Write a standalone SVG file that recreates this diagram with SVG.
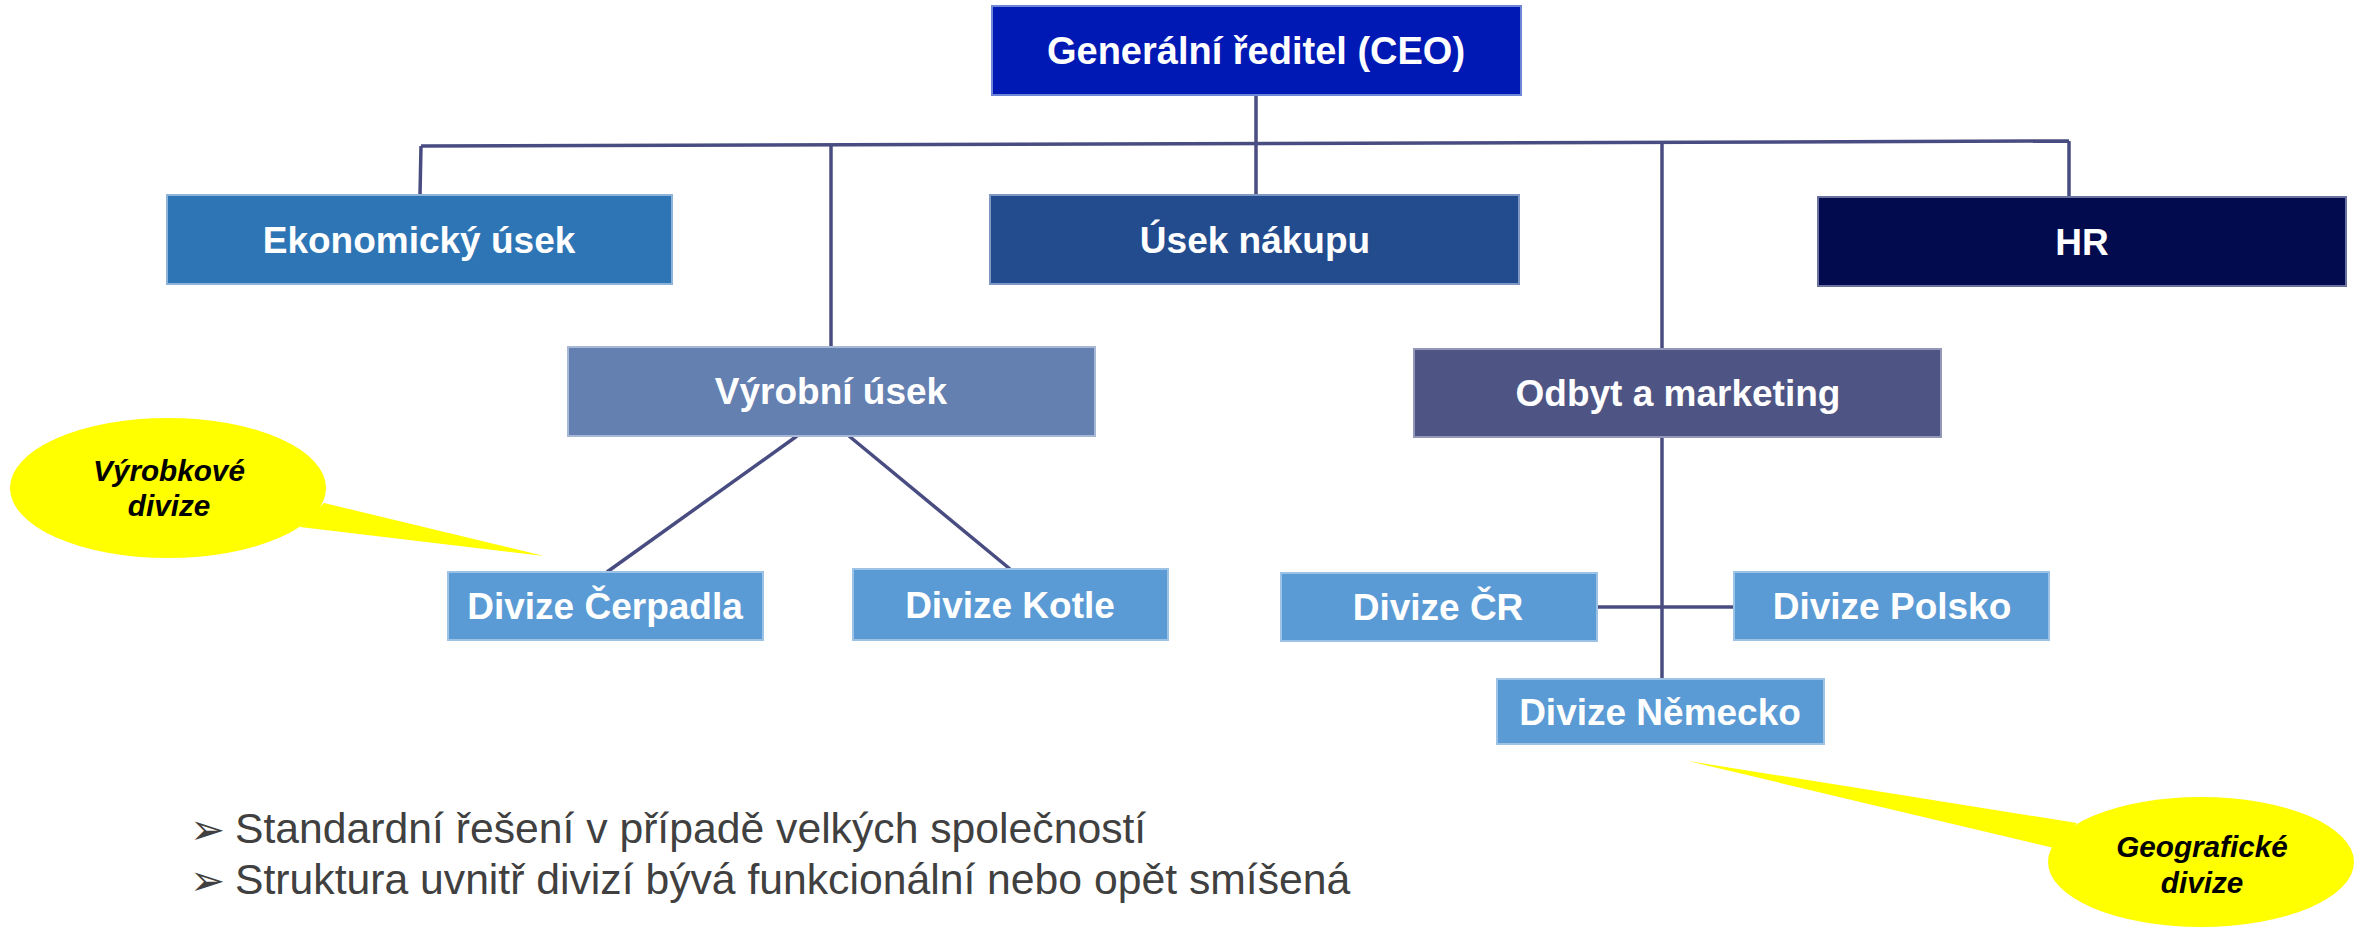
<svg xmlns="http://www.w3.org/2000/svg" width="2356" height="929" viewBox="0 0 2356 929">
<style>
.box{stroke-width:2}
.lbl{font-family:"Liberation Sans",Arial,sans-serif;font-weight:bold;font-size:37px;fill:#ffffff;text-anchor:middle}
.conn{stroke:#484c80;stroke-width:3.5;fill:none;stroke-linecap:butt}
.call{fill:#ffff00;stroke:none}
.ctext{font-family:"Liberation Sans",Arial,sans-serif;font-weight:bold;font-style:italic;font-size:29.7px;fill:#000000;text-anchor:middle}
.bul{font-family:"Liberation Sans",Arial,sans-serif;font-size:42.7px;fill:#404040}
.arr{font-family:"DejaVu Sans",sans-serif;font-size:42px;fill:#404040}
.div{fill:#5b9bd5;stroke:#9cc3e6}
</style>
<rect width="2356" height="929" fill="#ffffff"/>
<g id="connectors">
<line class="conn" x1="421" y1="146" x2="2069" y2="141"/>
<line class="conn" x1="1256" y1="95" x2="1256" y2="195"/>
<line class="conn" x1="421" y1="146" x2="420" y2="195"/>
<line class="conn" x1="831" y1="145" x2="831" y2="347"/>
<line class="conn" x1="2069" y1="141" x2="2069" y2="197"/>
<line class="conn" x1="1662" y1="142" x2="1662" y2="679"/>
<line class="conn" x1="797" y1="436" x2="607" y2="572"/>
<line class="conn" x1="849" y1="436" x2="1010" y2="569"/>
<line class="conn" x1="1597" y1="607" x2="1734" y2="607"/>
</g>
<g id="callout-vyrobkove">
<path class="call" d="M324,503 L544,556 L300,527 Z"/>
<ellipse class="call" cx="168" cy="488" rx="158" ry="70"/>
<text class="ctext" x="169" y="481">Výrobkové</text>
<text class="ctext" x="169" y="516">divize</text>
</g>
<g id="callout-geograficke">
<path class="call" d="M2077,823 L1688,761 L2054,848 Z"/>
<ellipse class="call" cx="2201" cy="862" rx="153" ry="65"/>
<text class="ctext" x="2202" y="857">Geografické</text>
<text class="ctext" x="2202" y="893">divize</text>
</g>
<g id="node-ceo">
<rect class="box" x="992" y="6" width="529" height="89" fill="#0019b5" stroke="#6f86d8"/>
<text class="lbl" x="1256" y="64" style="font-size:38px">Generální ředitel (CEO)</text>
</g>
<g id="node-ekonomicky">
<rect class="box" x="167" y="195" width="505" height="89" fill="#2e75b6" stroke="#8fb4da"/>
<text class="lbl" x="419" y="253">Ekonomický úsek</text>
</g>
<g id="node-nakup">
<rect class="box" x="990" y="195" width="529" height="89" fill="#234c8f" stroke="#7f97c2"/>
<text class="lbl" x="1255" y="253">Úsek nákupu</text>
</g>
<g id="node-hr">
<rect class="box" x="1818" y="197" width="528" height="89" fill="#030b4f" stroke="#6a72a0"/>
<text class="lbl" x="2082" y="255">HR</text>
</g>
<g id="node-vyrobni">
<rect class="box" x="568" y="347" width="527" height="89" fill="#6480b1" stroke="#a7b8d6"/>
<text class="lbl" x="831" y="404">Výrobní úsek</text>
</g>
<g id="node-odbyt">
<rect class="box" x="1414" y="349" width="527" height="88" fill="#4e5584" stroke="#9397b8"/>
<text class="lbl" x="1678" y="406">Odbyt a marketing</text>
</g>
<g id="node-cerpadla">
<rect class="box div" x="448" y="572" width="315" height="68"/>
<text class="lbl" x="605" y="619">Divize Čerpadla</text>
</g>
<g id="node-kotle">
<rect class="box div" x="853" y="569" width="315" height="71"/>
<text class="lbl" x="1010" y="618">Divize Kotle</text>
</g>
<g id="node-cr">
<rect class="box div" x="1281" y="573" width="316" height="68"/>
<text class="lbl" x="1438" y="620">Divize ČR</text>
</g>
<g id="node-polsko">
<rect class="box div" x="1734" y="572" width="315" height="68"/>
<text class="lbl" x="1892" y="619">Divize Polsko</text>
</g>
<g id="node-nemecko">
<rect class="box div" x="1497" y="679" width="327" height="65"/>
<text class="lbl" x="1660" y="725">Divize Německo</text>
</g>
<g id="bullets">
<text class="arr" x="190" y="844">➢</text>
<text class="bul" x="235" y="843">Standardní řešení v případě velkých společností</text>
<text class="arr" x="190" y="895">➢</text>
<text class="bul" x="235" y="894">Struktura uvnitř divizí bývá funkcionální nebo opět smíšená</text>
</g>
</svg>
